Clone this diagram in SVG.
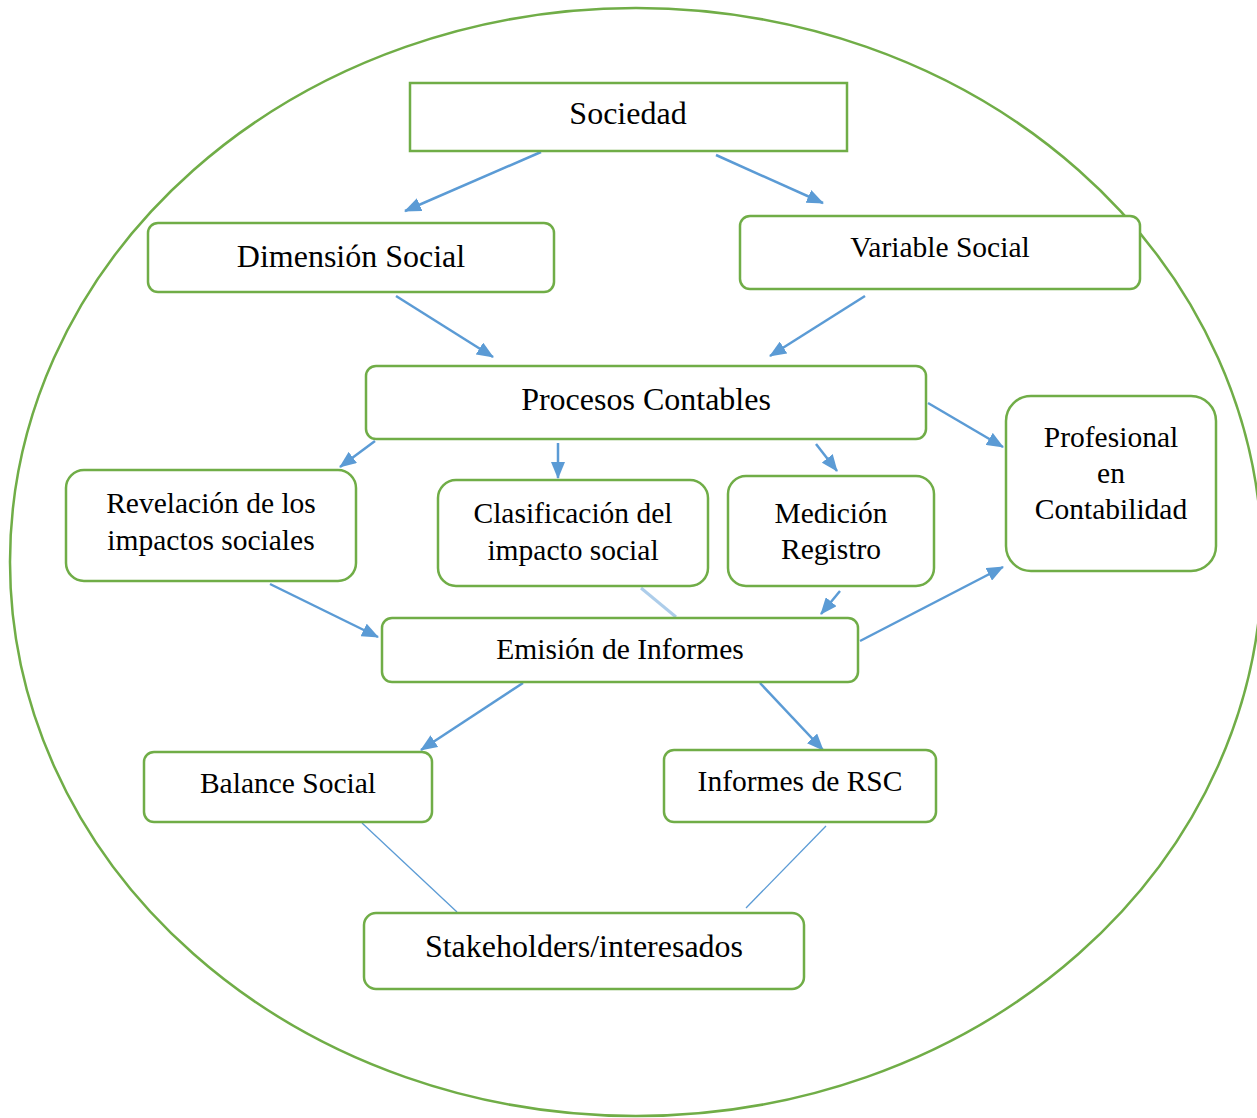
<svg xmlns="http://www.w3.org/2000/svg" width="1257" height="1118" viewBox="0 0 1257 1118">
<style>
.box{fill:#fff;stroke:#70AD47;stroke-width:2.5}
.t{font-family:"Liberation Serif","Times New Roman",serif;fill:#000;text-anchor:middle}
.l{font-size:32px}
.m{font-size:29.5px}
.c{stroke:#5B9BD5;stroke-width:2.5;fill:none}
.a{marker-end:url(#ah)}
.thin{stroke:#5B9BD5;stroke-width:1.3;fill:none}
</style>
<defs>
<marker id="ah" markerUnits="userSpaceOnUse" markerWidth="18" markerHeight="14" refX="16" refY="7" orient="auto">
<path d="M0,0 L17,7 L0,14 Z" fill="#5B9BD5"/>
</marker>
</defs>
<rect width="1257" height="1118" fill="#fff"/>
<ellipse cx="636" cy="562" rx="626" ry="554" fill="none" stroke="#70AD47" stroke-width="2.5"/>
<g id="connectors">
<line class="c a" x1="541" y1="152" x2="405" y2="211"/>
<line class="c a" x1="716" y1="155" x2="823" y2="203"/>
<line class="c a" x1="396" y1="296" x2="493" y2="357"/>
<line class="c a" x1="865" y1="296" x2="770" y2="356"/>
<line class="c a" x1="928" y1="403" x2="1003" y2="447"/>
<line class="c a" x1="375" y1="441" x2="340" y2="467"/>
<line class="c a" x1="558" y1="443" x2="558" y2="478"/>
<line class="c a" x1="816" y1="444" x2="837" y2="471"/>
<line x1="641" y1="588" x2="676" y2="617" stroke="#5B9BD5" stroke-opacity="0.5" stroke-width="3"/>
<line class="c a" x1="840" y1="591" x2="821" y2="614"/>
<line class="c a" x1="270" y1="584" x2="378" y2="637"/>
<line class="c a" x1="860" y1="641" x2="1003" y2="567"/>
<line class="c a" x1="523" y1="683" x2="421" y2="750"/>
<line class="c a" x1="760" y1="683" x2="823" y2="750"/>
<line class="thin" x1="362" y1="823" x2="457" y2="912"/>
<line class="thin" x1="826" y1="826" x2="746" y2="908"/>
</g>
<g id="sociedad"><rect class="box" x="410" y="83" width="437" height="68"/><text class="t l" x="628" y="124">Sociedad</text></g>
<g id="dimension"><rect class="box" x="148" y="223" width="406" height="69" rx="10"/><text class="t l" x="351" y="267">Dimensión Social</text></g>
<g id="variable"><rect class="box" x="740" y="216" width="400" height="73" rx="10"/><text class="t m" x="940" y="257">Variable Social</text></g>
<g id="procesos"><rect class="box" x="366" y="366" width="560" height="73" rx="10"/><text class="t l" x="646" y="410">Procesos Contables</text></g>
<g id="revelacion"><rect class="box" x="66" y="470" width="290" height="111" rx="18"/><text class="t m" x="211" y="513">Revelación de los</text><text class="t m" x="211" y="550">impactos sociales</text></g>
<g id="clasificacion"><rect class="box" x="438" y="480" width="270" height="106" rx="18"/><text class="t m" x="573" y="523">Clasificación del</text><text class="t m" x="573" y="560">impacto social</text></g>
<g id="medicion"><rect class="box" x="728" y="476" width="206" height="110" rx="18"/><text class="t m" x="831" y="523">Medición</text><text class="t m" x="831" y="559">Registro</text></g>
<g id="profesional"><rect class="box" x="1006" y="396" width="210" height="175" rx="25"/><text class="t m" x="1111" y="447">Profesional</text><text class="t m" x="1111" y="483">en</text><text class="t m" x="1111" y="519">Contabilidad</text></g>
<g id="emision"><rect class="box" x="382" y="618" width="476" height="64" rx="10"/><text class="t m" x="620" y="659">Emisión de Informes</text></g>
<g id="balance"><rect class="box" x="144" y="752" width="288" height="70" rx="10"/><text class="t m" x="288" y="793">Balance Social</text></g>
<g id="rsc"><rect class="box" x="664" y="750" width="272" height="72" rx="10"/><text class="t m" x="800" y="791">Informes de RSC</text></g>
<g id="stakeholders"><rect class="box" x="364" y="913" width="440" height="76" rx="12"/><text class="t l" x="584" y="957">Stakeholders/interesados</text></g>
</svg>
